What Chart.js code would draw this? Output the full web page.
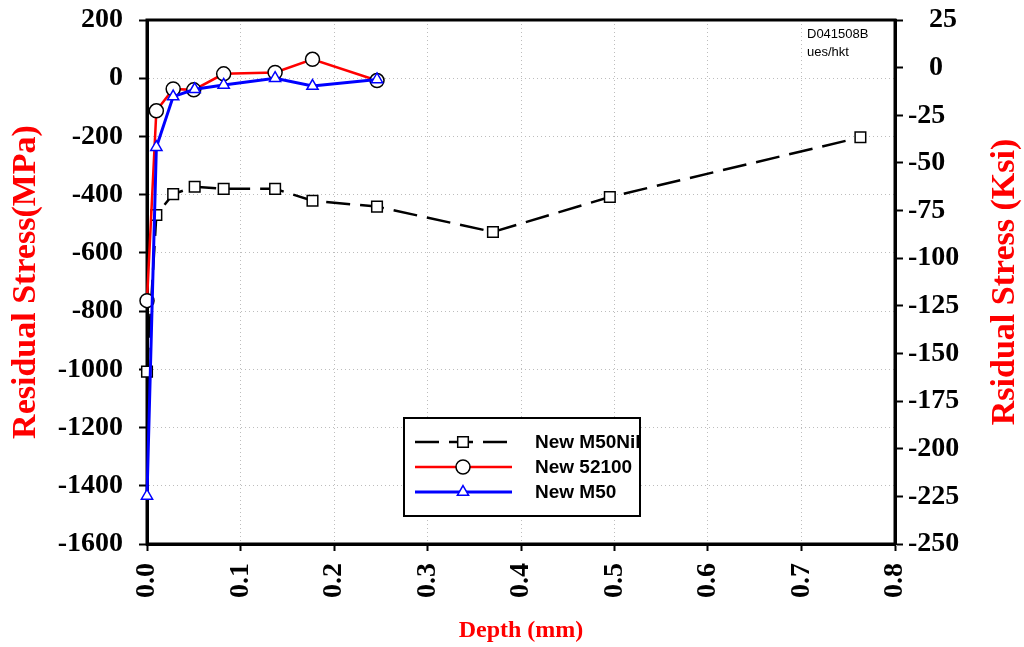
<!DOCTYPE html>
<html>
<head>
<meta charset="utf-8">
<title>Residual Stress vs Depth</title>
<script src="https://cdn.jsdelivr.net/npm/chart.js@4/dist/chart.umd.min.js"></script>
<style>
  html, body { margin: 0; padding: 0; background: #fff; }
  #wrap { width: 1024px; height: 647px; position: relative; }
</style>
</head>
<body>
<div id="wrap"><canvas id="chart" width="1024" height="647"></canvas></div>
<script>
// values (depth in mm, stress in MPa)
const seriesNames = ["New M50Nil", "New 52100", "New M50"];

const depthM50Nil  = [0, 0.010, 0.028, 0.051, 0.082, 0.137, 0.177, 0.246, 0.370, 0.495, 0.763];
const stressM50Nil = [-1008, -470, -398, -373, -380, -380, -421, -441, -528, -408, -203];

const depth52100  = [0, 0.010, 0.028, 0.050, 0.082, 0.137, 0.177, 0.246];
const stress52100 = [-764, -112, -37, -40, 15, 20, 65, -8];

const depthM50  = [0, 0.010, 0.028, 0.051, 0.082, 0.137, 0.177, 0.246];
const stressM50 = [-1435, -237, -63, -38, -23, 0, -27, -4];

const depthTickLabels = ["0.0", "0.1", "0.2", "0.3", "0.4", "0.5", "0.6", "0.7", "0.8"];
const mpaRange = [-1600, 200];   // left axis
const ksiRange = [-250, 25];     // right axis
const noteLines = ["D041508B", "ues/hkt"];

const toPoints = (xs, ys) => xs.map((x, i) => ({ x: x, y: ys[i] }));

const serif = "'Liberation Serif', 'Times New Roman', serif";
const sans = "'Liberation Sans', Arial, sans-serif";
const tickFont = { family: serif, size: 28, weight: 'bold' };

function marker(ctx, style, x, y, r) {
  ctx.beginPath();
  if (style === 'rect') {
    const s = r * Math.SQRT1_2;
    ctx.rect(x - s, y - s, 2 * s, 2 * s);
  } else if (style === 'triangle') {
    for (let k = 0; k < 3; k++) {
      const a = k * 2 * Math.PI / 3;
      const px = x + Math.sin(a) * r, py = y - Math.cos(a) * r;
      k ? ctx.lineTo(px, py) : ctx.moveTo(px, py);
    }
    ctx.closePath();
  } else {
    ctx.arc(x, y, r, 0, Math.PI * 2);
  }
  ctx.fill();
  ctx.stroke();
}

// full box round the plot, under the marks
const framePlugin = {
  id: 'frame',
  beforeDatasetsDraw(chart) {
    const { ctx, chartArea: a } = chart;
    ctx.save();
    ctx.lineWidth = 3;
    ctx.strokeStyle = '#000';
    ctx.strokeRect(a.left, a.top, a.right - a.left, a.bottom - a.top);
    ctx.restore();
  }
};

// y titles, note text and the boxed legend
const extrasPlugin = {
  id: 'extras',
  afterDraw(chart) {
    const { ctx, chartArea: a } = chart;
    const midY = (a.top + a.bottom) / 2;
    ctx.save();
    ctx.fillStyle = '#ff0000';
    ctx.font = "bold 34px " + serif;
    ctx.textAlign = 'center';
    ctx.textBaseline = 'middle';
    [["Residual Stress(MPa)", 26], ["Rsidual Stress (Ksi)", 1005]].forEach(([t, x]) => {
      ctx.save();
      ctx.translate(x, midY);
      ctx.rotate(-Math.PI / 2);
      ctx.fillText(t, 0, 0);
      ctx.restore();
    });

    ctx.fillStyle = '#000';
    ctx.font = "13px " + sans;
    ctx.textAlign = 'left';
    noteLines.forEach((t, i) => ctx.fillText(t, 807, 34 + i * 18));

    // legend
    const box = { x: 404, y: 418, w: 236, h: 98 };
    ctx.fillStyle = '#fff';
    ctx.fillRect(box.x, box.y, box.w, box.h);
    ctx.lineWidth = 2;
    ctx.strokeStyle = '#000';
    ctx.strokeRect(box.x, box.y, box.w, box.h);
    chart.data.datasets.forEach((ds, i) => {
      const y = 442 + i * 25;
      ctx.save();
      ctx.strokeStyle = ds.borderColor;
      ctx.lineWidth = ds.borderWidth;
      ctx.setLineDash(ds.borderDash || []);
      ctx.beginPath();
      ctx.moveTo(415, y);
      ctx.lineTo(512, y);
      ctx.stroke();
      ctx.setLineDash([]);
      ctx.fillStyle = ds.pointBackgroundColor;
      ctx.strokeStyle = ds.pointBorderColor;
      ctx.lineWidth = ds.pointBorderWidth;
      marker(ctx, ds.pointStyle, 463, y, ds.pointRadius);
      ctx.restore();
      ctx.fillStyle = '#000';
      ctx.font = "bold 19px " + sans;
      ctx.textBaseline = 'middle';
      ctx.fillText(ds.label, 535, y + 1);
    });
    ctx.restore();
  }
};

const gridStyle = { color: '#bdbdbd', lineWidth: 1, tickColor: '#000', tickWidth: 2, tickLength: 8 };

// keep the tick label overhang from pushing the plot down
const fixWidth = w => s => { s.width = w; s.paddingTop = 0; s.paddingBottom = 0; };

new Chart(document.getElementById('chart'), {
  type: 'scatter',
  data: {
    datasets: [
      {
        label: seriesNames[0], data: toPoints(depthM50Nil, stressM50Nil),
        showLine: true, borderColor: '#000', borderWidth: 2.5, borderDash: [24, 10],
        pointStyle: 'rect', pointRadius: 7.5, pointBorderColor: '#000',
        pointBackgroundColor: '#fff', pointBorderWidth: 1.5, order: 2, clip: false
      },
      {
        label: seriesNames[1], data: toPoints(depth52100, stress52100),
        showLine: true, borderColor: '#ff0000', borderWidth: 2.5,
        pointStyle: 'circle', pointRadius: 7, pointBorderColor: '#000',
        pointBackgroundColor: '#fff', pointBorderWidth: 1.5, order: 1, clip: false
      },
      {
        label: seriesNames[2], data: toPoints(depthM50, stressM50),
        showLine: true, borderColor: '#0000ff', borderWidth: 3,
        pointStyle: 'triangle', pointRadius: 6.5, pointBorderColor: '#0000ff',
        pointBackgroundColor: '#fff', pointBorderWidth: 1.5, order: 0, clip: false
      }
    ]
  },
  options: {
    responsive: false,
    animation: false,
    events: [],
    layout: { padding: { top: 20, left: 0, right: 0, bottom: 0 } },
    plugins: { legend: { display: false }, tooltip: { enabled: false } },
    scales: {
      x: {
        type: 'linear', position: 'bottom', min: 0, max: 0.8,
        afterFit: s => { s.height = 103; s.paddingLeft = 0; s.paddingRight = 0; },
        ticks: {
          stepSize: 0.1, autoSkip: false, minRotation: 90, maxRotation: 90,
          padding: 12, color: '#000', font: tickFont,
          callback: v => depthTickLabels[Math.round(v * 10)]
        },
        grid: Object.assign({}, gridStyle, { tickLength: 7 }),
        border: { color: '#000', width: 3, dash: [1, 3] },
        title: {
          display: true, text: 'Depth (mm)', color: '#ff0000',
          font: { family: serif, size: 24, weight: 'bold' }, padding: { top: 0, bottom: 2 }
        }
      },
      y: {
        type: 'linear', position: 'left', min: mpaRange[0], max: mpaRange[1],
        afterFit: fixWidth(147),
        ticks: { stepSize: 200, padding: 16, color: '#000', font: tickFont, callback: v => String(v) },
        grid: gridStyle,
        border: { color: '#000', width: 3, dash: [1, 3] }
      },
      y2: {
        type: 'linear', position: 'right', min: ksiRange[0], max: ksiRange[1],
        afterFit: fixWidth(129),
        ticks: {
          stepSize: 25, padding: 5, color: '#000', font: tickFont,
          callback: v => (v >= 0 ? '\u2007 ' : '') + v
        },
        grid: Object.assign({}, gridStyle, { drawOnChartArea: false }),
        border: { color: '#000', width: 3 }
      }
    }
  },
  plugins: [framePlugin, extrasPlugin]
});
</script>
</body>
</html>
